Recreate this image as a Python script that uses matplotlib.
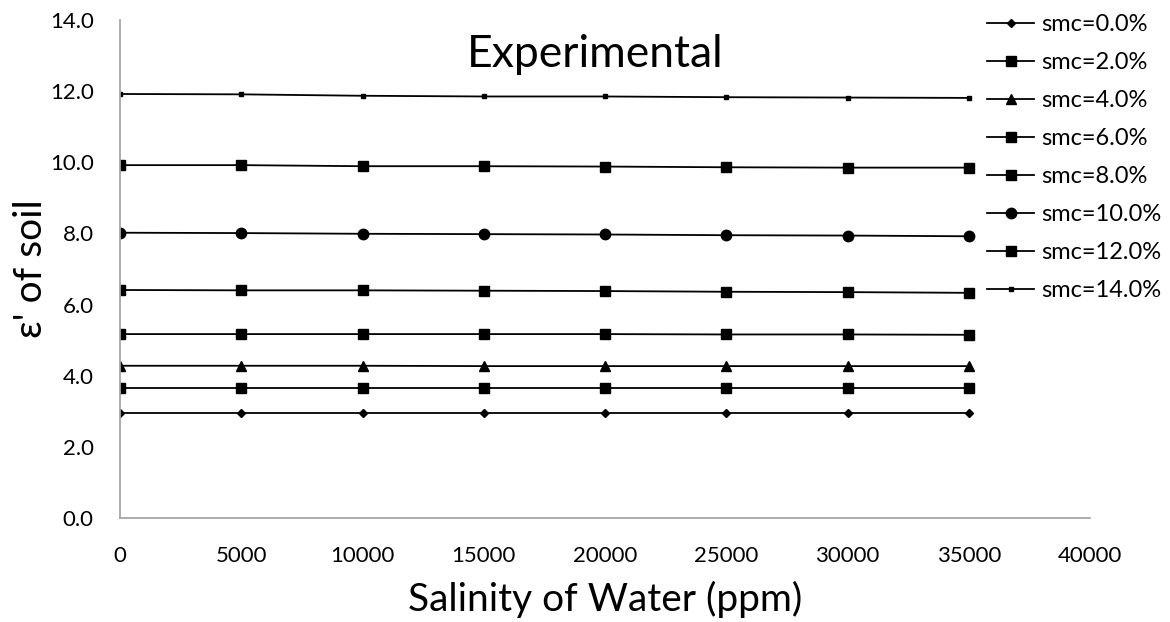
import matplotlib.pyplot as plt
import numpy as np

plt.rcParams['font.family'] = ['Lato', 'DejaVu Sans']

salinity = [0, 5000, 10000, 15000, 20000, 25000, 30000, 35000]

smc_labels = ['smc=0.0%', 'smc=2.0%', 'smc=4.0%', 'smc=6.0%',
              'smc=8.0%', 'smc=10.0%', 'smc=12.0%', 'smc=14.0%']

eps_0 = [2.96, 2.96, 2.96, 2.96, 2.96, 2.96, 2.96, 2.96]
eps_2 = [3.66, 3.66, 3.66, 3.66, 3.66, 3.66, 3.66, 3.66]
eps_4 = [4.28, 4.28, 4.28, 4.27, 4.27, 4.27, 4.27, 4.27]
eps_6 = [5.17, 5.17, 5.17, 5.17, 5.17, 5.16, 5.16, 5.15]
eps_8 = [6.41, 6.40, 6.40, 6.39, 6.38, 6.36, 6.35, 6.33]
eps_10 = [8.02, 8.01, 7.99, 7.98, 7.97, 7.95, 7.94, 7.92]
eps_12 = [9.92, 9.92, 9.89, 9.89, 9.88, 9.86, 9.85, 9.85]
eps_14 = [11.92, 11.91, 11.87, 11.85, 11.85, 11.83, 11.82, 11.81]

series = [eps_0, eps_2, eps_4, eps_6, eps_8, eps_10, eps_12, eps_14]
markers = ['D', 's', '^', 's', 's', 'o', 's', 's']
msizes = [4, 6.5, 6.5, 6.5, 6.5, 7.5, 6.5, 3]

fig = plt.figure(figsize=(11.7, 6.22), dpi=100)
ax = fig.add_axes([120 / 1170, 1 - 518 / 622, 970 / 1170, 498 / 622])

for vals, lab, m, ms in zip(series, smc_labels, markers, msizes):
    ax.plot(salinity, vals, color='black', lw=1.3, marker=m, markersize=ms,
            markerfacecolor='black', markeredgecolor='black', label=lab)

ax.set_xlim(0, 40000)
ax.set_ylim(0, 14)
ax.set_xticks(np.arange(0, 40001, 5000))
ax.set_yticks(np.arange(0, 14.1, 2))
ax.set_yticklabels([f'{v:.1f}' for v in np.arange(0, 14.1, 2)])
ax.tick_params(length=0, labelsize=16, pad=19)
ax.tick_params(axis='x', pad=20)

for s in ['top', 'right']:
    ax.spines[s].set_visible(False)
for s in ['left', 'bottom']:
    ax.spines[s].set_color('#a6a6a6')
    ax.spines[s].set_linewidth(1.3)

ax.set_xlabel('Salinity of Water (ppm)', fontsize=28, labelpad=11)
ax.set_ylabel("ε' of soil", fontsize=28)
ax.yaxis.set_label_coords(-71 / 970, 0.5)
ax.text(0.49, 0.93, 'Experimental', transform=ax.transAxes, ha='center',
        va='center', fontsize=32)

fig.legend(loc='upper left', bbox_to_anchor=(966 / 1170, 1.012), frameon=False,
           fontsize=17, labelspacing=0.72, handlelength=2.0, handletextpad=0.3)

fig.savefig('out.png', dpi=100)
